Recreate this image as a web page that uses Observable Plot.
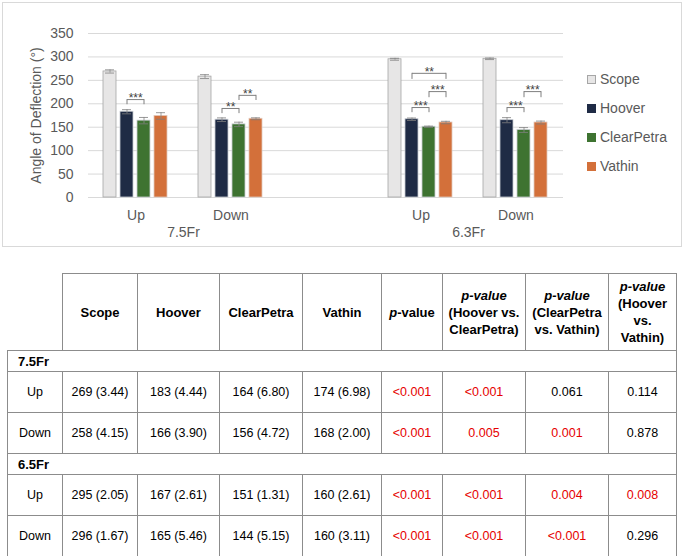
<!DOCTYPE html>
<html>
<head>
<meta charset="utf-8">
<script src="https://cdn.jsdelivr.net/npm/d3@7"></script>
<script src="https://cdn.jsdelivr.net/npm/@observablehq/plot@0.6"></script>
<style>
  body { margin: 0; background: #fff; font-family: "Liberation Sans", Arial, sans-serif; }
  #wrap { position: relative; width: 685px; height: 556px; overflow: hidden; }
  #box { position: absolute; left: 2px; top: 2px; width: 678px; height: 243px; border: 1px solid #d9d9d9; }
  #chart { position: absolute; left: 0; top: 0; }
  #legend { position: absolute; left: 587px; top: 64.5px; font-size: 14px; color: #595959; }
  .li { display: flex; align-items: center; height: 29px; white-space: nowrap; }
  .sw { width: 9px; height: 9px; margin-right: 4px; box-sizing: border-box; }
  #tbl { position: absolute; left: 7px; top: 273px; border-collapse: collapse; table-layout: fixed; width: 669px; color: #000; }
  #tbl td, #tbl th { border: 1px solid #8c8c8c; text-align: center; vertical-align: middle; padding: 0; }
  #tbl th { font-weight: bold; font-size: 13px; line-height: 17px; }
  #tbl td { font-size: 12.5px; }
  #tbl th.blank { border-top: none; border-left: none; }
  #tbl tr.hdr { height: 77px; }
  #tbl tr.grp { height: 21px; }
  #tbl tr.grp td { text-align: left; padding-left: 10px; font-weight: bold; font-size: 13px; }
  #tbl tr.row { height: 41px; }
  .sig { color: #e60000; }
</style>
</head>
<body>
<div id="wrap">
  <div id="box"></div>
  <div id="chart"></div>
  <div id="legend"></div>
  <table id="tbl"></table>
</div>
<script>
// ---------- data ----------
const series = ["Scope", "Hoover", "ClearPetra", "Vathin"];
const seriesColors = ["#e7e6e6", "#1f2b45", "#3e7331", "#d3703a"];
const seriesStrokes = ["#a6a6a6", "#c8ccd2", "#c8ccd2", "#e0c8bc"];

const chartGroups = ["7.5Fr", "7.5Fr", "6.3Fr", "6.3Fr"];
const tableGroups = ["7.5Fr", "7.5Fr", "6.5Fr", "6.5Fr"];
const directions = ["Up", "Down", "Up", "Down"];

const meanScope = [269, 258, 295, 296];
const meanHoover = [183, 166, 167, 165];
const meanClearPetra = [164, 156, 151, 144];
const meanVathin = [174, 168, 160, 160];

const sdScope = [3.44, 4.15, 2.05, 1.67];
const sdHoover = [4.44, 3.90, 2.61, 5.46];
const sdClearPetra = [6.80, 4.72, 1.31, 5.15];
const sdVathin = [6.98, 2.00, 2.61, 3.11];

const pOverall = ["<0.001", "<0.001", "<0.001", "<0.001"];
const pHooverClearPetra = ["<0.001", "0.005", "<0.001", "<0.001"];
const pClearPetraVathin = ["0.061", "0.001", "0.004", "<0.001"];
const pHooverVathin = ["0.114", "0.878", "0.008", "0.296"];

// significance brackets on the chart (values in degrees)
const bracketRow = [0, 1, 1, 2, 2, 2, 3, 3];
const bracketFrom = ["Hoover", "Hoover", "ClearPetra", "Hoover", "ClearPetra", "Hoover", "Hoover", "ClearPetra"];
const bracketTo = ["ClearPetra", "ClearPetra", "Vathin", "Vathin", "Vathin", "ClearPetra", "ClearPetra", "Vathin"];
const bracketTop = [209, 190, 218, 265, 226, 192, 192, 226];
const bracketBottom = [198, 179, 207, 252, 213, 181, 181, 213];
const bracketStars = ["***", "**", "**", "**", "***", "***", "***", "***"];

const yTicks = [0, 50, 100, 150, 200, 250, 300, 350];
const yLabel = "Angle of Deflection (°)";

// ---------- derived tables ----------
const means = [meanScope, meanHoover, meanClearPetra, meanVathin];
const sds = [sdScope, sdHoover, sdClearPetra, sdVathin];
const slotOf = r => chartGroups[r] + " " + directions[r];
const slots = [slotOf(0), slotOf(1), "gap", slotOf(2), slotOf(3)];

const bars = [];
for (let r = 0; r < 4; r++) {
  series.forEach((s, i) => {
    bars.push({slot: slotOf(r), series: s, value: means[i][r], sd: sds[i][r],
               fill: seriesColors[i], stroke: seriesStrokes[i]});
  });
}
const brackets = bracketRow.map((r, k) => ({
  slot: slotOf(r), from: bracketFrom[k], to: bracketTo[k],
  top: bracketTop[k], bottom: bracketBottom[k], stars: bracketStars[k],
  span: series.indexOf(bracketTo[k]) - series.indexOf(bracketFrom[k])
}));
const grid = slots.flatMap(slot => yTicks.map(y => ({slot, y})));
const groupLabels = [
  {slot: slotOf(1), label: chartGroups[0]},
  {slot: slotOf(3), label: chartGroups[2]}
];

// ---------- layout ----------
const W = 685, H = 248, ML = 87, MR = 122, MT = 33, MB = 51;
const padInner = 0.21, padOuter = 0.855;
const facetW = (W - ML - MR) / slots.length;
const step = facetW / (series.length - padInner + 2 * padOuter);
const txt = "#595959";

const plot = Plot.plot({
  width: W, height: H,
  marginLeft: ML, marginRight: MR, marginTop: MT, marginBottom: MB,
  style: {fontFamily: '"Liberation Sans", Arial, sans-serif', fontSize: "14px", background: "transparent"},
  fx: {domain: slots, padding: 0},
  x: {domain: series, paddingInner: padInner, paddingOuter: padOuter, axis: null},
  y: {domain: [0, 350]},
  color: {type: "identity"},
  marks: [
    Plot.ruleY(grid, {fx: "slot", y: "y", stroke: "#d9d9d9", strokeWidth: 1}),
    Plot.axisY({ticks: yTicks, tickSize: 0, tickPadding: 15, label: null, fontSize: 14, color: txt}),
    Plot.text([yLabel], {facet: "super", frameAnchor: "left", dx: -52, rotate: -90, textAnchor: "middle", fontSize: 14, fill: txt}),
    Plot.axisFx({anchor: "bottom", tickSize: 0, tickPadding: 13, label: null, fontSize: 14, color: txt,
                 tickFormat: k => k === "gap" ? "" : k.split(" ")[1]}),
    Plot.text(groupLabels, {fx: "slot", text: "label", frameAnchor: "bottom-left", textAnchor: "middle",
                            lineAnchor: "top", dy: 30, fontSize: 14, fill: txt}),
    Plot.barY(bars, {fx: "slot", x: "series", y: "value", fill: "fill", stroke: "stroke", strokeWidth: 0.8}),
    Plot.ruleX(bars, {fx: "slot", x: "series", y1: d => d.value - d.sd, y2: d => d.value + d.sd, stroke: "#8c8c8c", strokeWidth: 0.8}),
    Plot.tickY(bars, {fx: "slot", x: "series", y: d => d.value + d.sd, insetLeft: 2, insetRight: 2, stroke: "#7f7f7f", strokeWidth: 0.8}),
    Plot.tickY(bars, {fx: "slot", x: "series", y: d => d.value - d.sd, insetLeft: 2, insetRight: 2, stroke: "#7f7f7f", strokeWidth: 0.8}),
    Plot.link(brackets, {fx: "slot", x1: "from", x2: "to", y1: "top", y2: "top", stroke: "#7f7f7f", strokeWidth: 1}),
    Plot.ruleX(brackets, {fx: "slot", x: "from", y1: "bottom", y2: "top", stroke: "#7f7f7f", strokeWidth: 1}),
    Plot.ruleX(brackets, {fx: "slot", x: "to", y1: "bottom", y2: "top", stroke: "#7f7f7f", strokeWidth: 1}),
    Plot.text(brackets.filter(d => d.span === 1), {fx: "slot", x: "from", y: "top", text: "stars", dx: step / 2, dy: -1,
              fontSize: 12, fill: "#404040", textAnchor: "middle", lineAnchor: "middle"}),
    Plot.text(brackets.filter(d => d.span === 2), {fx: "slot", x: "from", y: "top", text: "stars", dx: step, dy: -1,
              fontSize: 12, fill: "#404040", textAnchor: "middle", lineAnchor: "middle"})
  ]
});
document.getElementById("chart").appendChild(plot);

// ---------- legend ----------
const legend = document.getElementById("legend");
series.forEach((s, i) => {
  const item = document.createElement("div");
  item.className = "li";
  const sw = document.createElement("div");
  sw.className = "sw";
  sw.style.background = seriesColors[i];
  if (i === 0) sw.style.border = "1px solid " + seriesStrokes[i];
  const t = document.createElement("span");
  t.textContent = s;
  item.appendChild(sw); item.appendChild(t);
  legend.appendChild(item);
});

// ---------- table ----------
const colWidths = [55, 75, 82, 83, 79, 61, 83, 83, 68];
const headers = [
  "", "Scope", "Hoover", "ClearPetra", "Vathin",
  "<i>p</i>-value",
  "<i>p-value</i><br>(Hoover vs.<br>ClearPetra)",
  "<i>p-value</i><br>(ClearPetra<br>vs. Vathin)",
  "<i>p-value</i><br>(Hoover<br>vs.<br>Vathin)"
];
const isSig = p => p.startsWith("<") || parseFloat(p) < 0.05;
let html = "<colgroup>" + colWidths.map(w => `<col style="width:${w}px">`).join("") + "</colgroup>";
html += '<tr class="hdr">' + headers.map((h, i) => i === 0 ? '<th class="blank"></th>' : `<th>${h}</th>`).join("") + "</tr>";
for (let r = 0; r < 4; r++) {
  if (r === 0 || tableGroups[r] !== tableGroups[r - 1]) {
    html += `<tr class="grp"><td colspan="9">${tableGroups[r]}</td></tr>`;
  }
  const cells = [directions[r]];
  for (let i = 0; i < 4; i++) cells.push(`${means[i][r]} (${sds[i][r].toFixed(2)})`);
  const ps = [pOverall[r], pHooverClearPetra[r], pClearPetraVathin[r], pHooverVathin[r]];
  html += '<tr class="row">' + cells.map(c => `<td>${c}</td>`).join("") +
          ps.map(p => `<td class="${isSig(p) ? "sig" : ""}">${p}</td>`).join("") + "</tr>";
}
document.getElementById("tbl").innerHTML = html;
</script>
</body>
</html>
